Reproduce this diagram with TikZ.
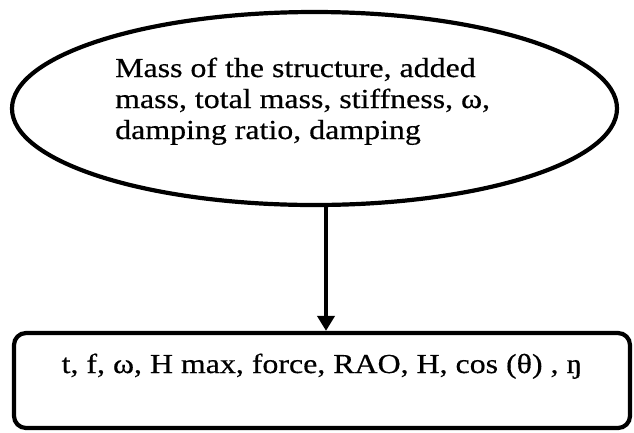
\documentclass[tikz,border=0pt]{standalone}
\usepackage{fontspec}
\setmainfont{Liberation Serif}[FakeStretch=1.16,FakeBold=0.5]
\usetikzlibrary{shapes.geometric,arrows.meta}
\tikzset{
  oval/.style={draw, ellipse, line width=4.2pt, inner sep=0pt,
    minimum width=605pt, minimum height=193pt},
  txt/.style={inner sep=0pt, font=\fontsize{27.5}{31}\selectfont},
  outbox/.style={draw, rectangle, rounded corners=12pt, line width=4.2pt,
    inner xsep=0pt, inner ysep=0pt, minimum width=616pt,
    text height=40pt, text depth=55pt, font=\fontsize{27.5}{31}\selectfont},
  arr/.style={line width=4.5pt, -{Triangle[length=15pt,width=17pt]}}
}
\begin{document}
\begin{tikzpicture}[x=1pt,y=-1pt]
\useasboundingbox (0,0) rectangle (634,432);
\node[oval] (e) at (314.5,108.5) {};
\node[txt, anchor=base west, align=left] (et) at (115,139)
  {Mass of the structure, added\\mass, total mass, stiffness, ω,\\damping ratio, damping};
\node[outbox, anchor=base] (b) at (322,373) {t, f, ω, H max, force, RAO, H, cos (θ) , ŋ};
\draw[arr] ([xshift=11.5pt]e.south) -- ([xshift=4pt]b.north);
\end{tikzpicture}
\end{document}
